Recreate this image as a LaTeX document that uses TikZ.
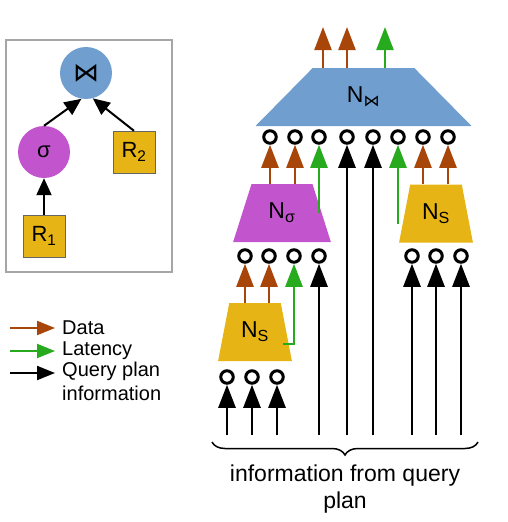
\documentclass[tikz,border=0pt]{standalone}
\usepackage{fontspec}
\setmainfont{Liberation Sans}
\newfontfamily\symfont{DejaVu Sans}
\usetikzlibrary{arrows.meta,shapes.geometric,decorations.pathreplacing,calc}
\definecolor{databrown}{RGB}{168,70,10}
\definecolor{latgreen}{RGB}{40,170,30}
\definecolor{joinblue}{RGB}{112,158,206}
\definecolor{selpurple}{RGB}{194,84,206}
\definecolor{scangold}{RGB}{230,180,20}
\begin{document}
\begin{tikzpicture}[x=1pt,y=-1pt,>={Triangle[length=23pt,width=17pt]}]
\tikzstyle{port}=[draw, circle, line width=3pt, inner sep=0pt, minimum size=12.5pt]
\tikzstyle{op}=[trapezium, trapezium stretches=true, inner sep=0pt, minimum height=58pt, font=\fontsize{23}{23}\selectfont]
\tikzstyle{alg}=[circle, inner sep=0pt, minimum size=52pt, font=\fontsize{22}{22}\selectfont]
\tikzstyle{rel}=[draw=black!60, fill=scangold, inner sep=0pt, minimum size=42pt, font=\fontsize{22}{22}\selectfont]
\tikzstyle{legend}=[anchor=west, inner sep=0pt, align=left, font=\fontsize{20}{24}\selectfont]
\tikzstyle{data}=[->, databrown, line width=2.4pt]
\tikzstyle{lat}=[->, latgreen, line width=2.4pt]
\tikzstyle{info}=[->, black, line width=2.5pt]
\tikzstyle{treearrow}=[-{Triangle[length=17pt,width=15pt]}, black, line width=2pt]
\tikzstyle{keyarrow}=[-{Triangle[length=18pt,width=14pt]}, line width=2pt, shorten >=7pt]

\useasboundingbox (0,0) rectangle (507,522);

\draw[black!35, line width=1.5pt] (6,40) rectangle (172,272);
\node[alg, fill=joinblue] (join) at (86,73) {\symfont\fontsize{26}{26}\selectfont ⋈};
\node[alg, fill=selpurple] (sigma) at (44,152) {σ};
\node[rel] (r2) at (134,152) {R\textsubscript{2}};
\node[rel] (r1) at (44,236) {R\textsubscript{1}};
\draw[treearrow] (sigma.north) -- (join.-100);
\draw[treearrow] (r2.north) -- (join.-75);
\draw[treearrow] (r1.north) -- (sigma.south);

\node[legend] (ldata) at (62,328) {Data};
\node[legend] (llat) at (62,351) {Latency};
\node[legend, anchor=north west] (lquery) at (62,362) {Query plan\\information};
\coordinate (kdata) at (10,328);
\coordinate (klat) at (10,351);
\coordinate (kquery) at (10,373);
\draw[keyarrow, databrown] (kdata) -- (ldata.west);
\draw[keyarrow, latgreen] (klat) -- (llat.west);
\draw[keyarrow, black] (kquery) -- (kquery -| lquery.west);

\node[op, fill=joinblue, minimum width=217pt, trapezium angle=47] (nj) at (363.5,97) {N\textsubscript{\symfont ⋈}};
\node[op, fill=selpurple, minimum width=98pt, trapezium angle=67.5] (nsel) at (282,213) {N\textsubscript{σ}};
\node[op, fill=scangold, minimum width=74pt, trapezium angle=73] (nscanr) at (436,213.5) {N\textsubscript{S}};
\node[op, fill=scangold, minimum width=74pt, trapezium angle=73] (nscanl) at (255,332) {N\textsubscript{S}};

\node[port] (a1) at (270,137) {};
\node[port] (a2) at (295,137) {};
\node[port] (a3) at (319,137) {};
\node[port] (a4) at (347,137) {};
\node[port] (a5) at (373,137) {};
\node[port] (a6) at (398,137) {};
\node[port] (a7) at (423,137) {};
\node[port] (a8) at (448,137) {};
\node[port] (b1) at (245,256) {};
\node[port] (b2) at (269,256) {};
\node[port] (b3) at (294,256) {};
\node[port] (b4) at (319,256) {};
\node[port] (c1) at (412,256) {};
\node[port] (c2) at (436,256) {};
\node[port] (c3) at (461,256) {};
\node[port] (d1) at (227,377) {};
\node[port] (d2) at (252,377) {};
\node[port] (d3) at (277,377) {};

\coordinate (o1) at (323,27);
\coordinate (o2) at (347,27);
\coordinate (o3) at (385,27);
\coordinate (q1) at (227,435);
\coordinate (q2) at (252,435);
\coordinate (q3) at (277,435);
\coordinate (q4) at (319,435);
\coordinate (q5) at (347,435);
\coordinate (q6) at (373,435);
\coordinate (q7) at (412,435);
\coordinate (q8) at (436,435);
\coordinate (q9) at (461,435);
\coordinate (lsr) at ($(nscanr.north west)!0.67!(nscanr.south west)$);
\coordinate (lsl) at ($(nscanl.north east)!0.69!(nscanl.south east)$);

\draw[data] (nj.north -| o1) -- (o1);
\draw[data] (nj.north -| o2) -- (o2);
\draw[lat] (nj.north -| o3) -- (o3);
\draw[data] (nsel.north -| a1) -- (a1);
\draw[data] (nsel.north -| a2) -- (a2);
\draw[lat] (nsel.east -| a3) -- (a3);
\draw[info] (q5) -- (a4);
\draw[info] (q6) -- (a5);
\draw[lat] (lsr -| a6) -- (a6);
\draw[data] (nscanr.north -| a7) -- (a7);
\draw[data] (nscanr.north -| a8) -- (a8);
\draw[data] (nscanl.north -| b1) -- (b1);
\draw[data] (nscanl.north -| b2) -- (b2);
\draw[lat] (lsl) -| (b3);
\draw[info] (q4) -- (b4);
\draw[info] (q7) -- (c1);
\draw[info] (q8) -- (c2);
\draw[info] (q9) -- (c3);
\draw[info] (q1) -- (d1);
\draw[info] (q2) -- (d2);
\draw[info] (q3) -- (d3);

\coordinate (br1) at (212,442);
\coordinate (br2) at (478,442);
\draw[decorate, decoration={brace, mirror, amplitude=13pt}, line width=1.5pt] (br1) -- (br2);
\node[below, align=center, inner sep=0pt, font=\fontsize{23}{27}\selectfont] (src) at (345,465) {information from query\\plan};
\end{tikzpicture}
\end{document}
